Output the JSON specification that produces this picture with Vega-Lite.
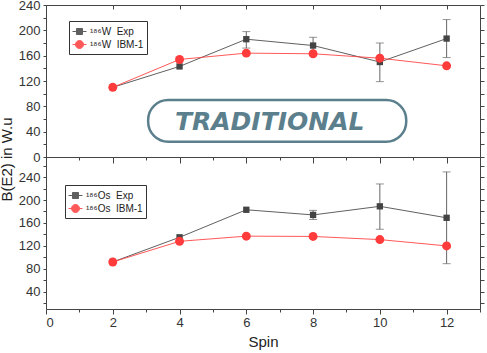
{
  "$schema": "https://vega.github.io/schema/vega-lite/v6.json",
  "padding": {"left": -2, "top": -2, "right": 0, "bottom": 0},
  "bounds": "flush",
  "spacing": 0,
  "background": "white",
  "config": {
    "view": {"stroke": "#444444", "strokeWidth": 1},
    "font": "Liberation Sans",
    "axis": {"labelFont": "Liberation Sans", "labelFontSize": 13, "labelColor": "#333333", "tickColor": "#444444", "domain": false, "grid": false, "titleFont": "Liberation Sans", "titleFontWeight": "normal", "titleColor": "#222222"},
    "legend": {"labelFont": "Liberation Sans", "labelFontSize": 10, "labelColor": "#222222", "strokeColor": "#333333", "padding": 3, "rowPadding": 0, "symbolStrokeWidth": 1, "labelOffset": 3}
  },
  "datasets": {
    "pts": [
      {"panel": "W", "series": "¹⁸⁶W\u00a0 Exp", "spin": 2, "value": 110, "lo": null, "hi": null},
      {"panel": "W", "series": "¹⁸⁶W\u00a0 Exp", "spin": 4, "value": 143, "lo": null, "hi": null},
      {"panel": "W", "series": "¹⁸⁶W\u00a0 Exp", "spin": 6, "value": 186, "lo": 172, "hi": 198},
      {"panel": "W", "series": "¹⁸⁶W\u00a0 Exp", "spin": 8, "value": 176, "lo": 163, "hi": 189},
      {"panel": "W", "series": "¹⁸⁶W\u00a0 Exp", "spin": 10, "value": 150, "lo": 119, "hi": 180},
      {"panel": "W", "series": "¹⁸⁶W\u00a0 Exp", "spin": 12, "value": 187, "lo": 157, "hi": 217},
      {"panel": "W", "series": "¹⁸⁶W\u00a0 IBM-1", "spin": 2, "value": 110, "lo": null, "hi": null},
      {"panel": "W", "series": "¹⁸⁶W\u00a0 IBM-1", "spin": 4, "value": 154, "lo": null, "hi": null},
      {"panel": "W", "series": "¹⁸⁶W\u00a0 IBM-1", "spin": 6, "value": 164, "lo": null, "hi": null},
      {"panel": "W", "series": "¹⁸⁶W\u00a0 IBM-1", "spin": 8, "value": 163, "lo": null, "hi": null},
      {"panel": "W", "series": "¹⁸⁶W\u00a0 IBM-1", "spin": 10, "value": 156, "lo": null, "hi": null},
      {"panel": "W", "series": "¹⁸⁶W\u00a0 IBM-1", "spin": 12, "value": 144, "lo": null, "hi": null},
      {"panel": "Os", "series": "¹⁸⁶Os\u00a0 Exp", "spin": 2, "value": 92, "lo": null, "hi": null},
      {"panel": "Os", "series": "¹⁸⁶Os\u00a0 Exp", "spin": 4, "value": 135, "lo": null, "hi": null},
      {"panel": "Os", "series": "¹⁸⁶Os\u00a0 Exp", "spin": 6, "value": 183, "lo": null, "hi": null},
      {"panel": "Os", "series": "¹⁸⁶Os\u00a0 Exp", "spin": 8, "value": 174, "lo": 166, "hi": 182},
      {"panel": "Os", "series": "¹⁸⁶Os\u00a0 Exp", "spin": 10, "value": 189, "lo": 149, "hi": 228},
      {"panel": "Os", "series": "¹⁸⁶Os\u00a0 Exp", "spin": 12, "value": 169, "lo": 89, "hi": 249},
      {"panel": "Os", "series": "¹⁸⁶Os\u00a0 IBM-1", "spin": 2, "value": 92, "lo": null, "hi": null},
      {"panel": "Os", "series": "¹⁸⁶Os\u00a0 IBM-1", "spin": 4, "value": 128, "lo": null, "hi": null},
      {"panel": "Os", "series": "¹⁸⁶Os\u00a0 IBM-1", "spin": 6, "value": 137, "lo": null, "hi": null},
      {"panel": "Os", "series": "¹⁸⁶Os\u00a0 IBM-1", "spin": 8, "value": 136.5, "lo": null, "hi": null},
      {"panel": "Os", "series": "¹⁸⁶Os\u00a0 IBM-1", "spin": 10, "value": 131, "lo": null, "hi": null},
      {"panel": "Os", "series": "¹⁸⁶Os\u00a0 IBM-1", "spin": 12, "value": 120, "lo": null, "hi": null}
    ],
    "badge": [
      {"label": "TRADITIONAL", "x1": 3.06, "x2": 10.79, "y1": 90, "y2": 24.2, "xc": 6.7, "yc": 55.7}
    ]
  },
  "vconcat": [
    {
      "width": 434,
      "height": 152,
      "layer": [
        {
          "data": {"name": "badge"},
          "mark": {"type": "rect", "cornerRadius": 20, "fill": "white", "stroke": "#5b7f8c", "strokeWidth": 2.5},
          "encoding": {
            "x": {"field": "x1", "type": "quantitative", "scale": {"domain": [0, 13], "nice": false, "zero": false},
                  "axis": {"orient": "top", "values": [0, 2, 4, 6, 8, 10, 12], "labels": false, "tickSize": -4, "title": null}},
            "x2": {"field": "x2"},
            "y": {"field": "y1", "type": "quantitative", "scale": {"domain": [0, 240], "nice": false, "zero": false},
                  "axis": {"orient": "right", "values": [0, 20, 40, 60, 80, 100, 120, 140, 160, 180, 200, 220, 240], "labels": false, "tickSize": 4, "title": null}},
            "y2": {"field": "y2"}
          }
        },
        {
          "data": {"name": "badge"},
          "mark": {"type": "text", "font": "DejaVu Sans", "fontWeight": "bold", "fontStyle": "italic", "fontSize": 25, "color": "#5b7f8c", "align": "center", "baseline": "middle"},
          "encoding": {
            "x": {"field": "xc", "type": "quantitative", "axis": null},
            "y": {"field": "yc", "type": "quantitative", "axis": null},
            "text": {"field": "label"}
          }
        },
        {
          "data": {"name": "pts"},
          "transform": [{"filter": "datum.panel == 'W' && datum.lo != null"}],
          "mark": {"type": "errorbar", "ticks": {"size": 8}, "color": "#666666"},
          "encoding": {
            "x": {"field": "spin", "type": "quantitative", "axis": null},
            "y": {"field": "lo", "type": "quantitative", "axis": null},
            "y2": {"field": "hi"}
          }
        },
        {
          "data": {"name": "pts"},
          "transform": [{"filter": "datum.panel == 'W'"}],
          "mark": {"type": "line", "strokeWidth": 1, "opacity": 0.85},
          "encoding": {
            "x": {"field": "spin", "type": "quantitative",
                  "axis": {"orient": "bottom", "values": [0, 1, 2, 3, 4, 5, 6, 7, 8, 9, 10, 11, 12, 13], "labels": false, "title": null,
                           "tickSize": {"condition": {"test": "datum.value % 2 == 0", "value": 6}, "value": 3}}},
            "y": {"field": "value", "type": "quantitative",
                  "axis": {"orient": "left", "values": [0, 20, 40, 60, 80, 100, 120, 140, 160, 180, 200, 220, 240], "tickSize": 3,
                           "labelExpr": "datum.value % 40 == 0 ? datum.label : ''", "labelPadding": 3,
                           "title": "B(E2) in W.u", "titleFontSize": 15, "titleAngle": -90, "titleX": -40, "titleY": 154, "titleAlign": "center", "titleBaseline": "middle"}},
            "color": {"field": "series", "type": "nominal", "scale": {"domain": ["¹⁸⁶W\u00a0 Exp", "¹⁸⁶W\u00a0 IBM-1"], "range": ["#444444", "#ff3b3b"]},
                      "legend": {"title": null, "orient": "none", "legendX": 23, "legendY": 16, "symbolSize": 196,
                                 "symbolType": {"expr": "indexof(datum.value, 'Exp') >= 0 ? 'M-1,0H1M-0.43,-0.43H0.43V0.43H-0.43Z' : 'M-1,0H1M-0.57,0A0.57,0.57,0,1,1,0.57,0A0.57,0.57,0,1,1,-0.57,0Z'"}}},
            "detail": {"field": "series"}
          }
        },
        {
          "data": {"name": "pts"},
          "transform": [{"filter": "datum.panel == 'W'"}],
          "mark": {"type": "point", "filled": true, "opacity": 1},
          "encoding": {
            "x": {"field": "spin", "type": "quantitative", "axis": null},
            "y": {"field": "value", "type": "quantitative", "axis": null},
            "color": {"field": "series", "type": "nominal",
                      "legend": {"title": null, "orient": "none", "legendX": 23, "legendY": 16, "symbolSize": 196,
                                 "symbolType": {"expr": "indexof(datum.value, 'Exp') >= 0 ? 'M-1,0H1M-0.43,-0.43H0.43V0.43H-0.43Z' : 'M-1,0H1M-0.57,0A0.57,0.57,0,1,1,0.57,0A0.57,0.57,0,1,1,-0.57,0Z'"}}},
            "shape": {"field": "series", "type": "nominal", "scale": {"range": ["square", "circle"]}, "legend": null},
            "size": {"field": "series", "type": "ordinal", "scale": {"range": [40, 80]}, "legend": null}
          }
        }
      ],
      "resolve": {"axis": {"x": "independent", "y": "independent"}}
    },
    {
      "width": 434,
      "height": 152,
      "layer": [
        {
          "data": {"name": "pts"},
          "transform": [{"filter": "datum.panel == 'Os' && datum.lo != null"}],
          "mark": {"type": "errorbar", "ticks": {"size": 8}, "color": "#666666"},
          "encoding": {
            "x": {"field": "spin", "type": "quantitative", "scale": {"domain": [0, 13], "nice": false, "zero": false},
                  "axis": {"orient": "top", "values": [0, 2, 4, 6, 8, 10, 12], "labels": false, "tickSize": -4, "title": null}},
            "y": {"field": "lo", "type": "quantitative", "scale": {"domain": [10, 275], "nice": false, "zero": false},
                  "axis": {"orient": "right", "values": [20, 40, 60, 80, 100, 120, 140, 160, 180, 200, 220, 240, 260], "labels": false, "tickSize": 4, "title": null}},
            "y2": {"field": "hi"}
          }
        },
        {
          "data": {"name": "pts"},
          "transform": [{"filter": "datum.panel == 'Os'"}],
          "mark": {"type": "line", "strokeWidth": 1, "opacity": 0.85},
          "encoding": {
            "x": {"field": "spin", "type": "quantitative",
                  "axis": {"orient": "bottom", "values": [0, 1, 2, 3, 4, 5, 6, 7, 8, 9, 10, 11, 12, 13], "title": "Spin", "titleFontSize": 15, "titlePadding": 5,
                           "labelExpr": "datum.value % 2 == 0 ? datum.label : ''", "labelPadding": 2,
                           "tickSize": {"condition": {"test": "datum.value % 2 == 0", "value": 5}, "value": 3}}},
            "y": {"field": "value", "type": "quantitative",
                  "axis": {"orient": "left", "values": [20, 40, 60, 80, 100, 120, 140, 160, 180, 200, 220, 240, 260], "tickSize": 3,
                           "labelExpr": "datum.value % 40 == 0 ? datum.label : ''", "labelPadding": 3, "title": null}},
            "color": {"field": "series", "type": "nominal", "scale": {"domain": ["¹⁸⁶Os\u00a0 Exp", "¹⁸⁶Os\u00a0 IBM-1"], "range": ["#444444", "#ff3b3b"]},
                      "legend": {"title": null, "orient": "none", "legendX": 19, "legendY": 28, "symbolSize": 196,
                                 "symbolType": {"expr": "indexof(datum.value, 'Exp') >= 0 ? 'M-1,0H1M-0.43,-0.43H0.43V0.43H-0.43Z' : 'M-1,0H1M-0.57,0A0.57,0.57,0,1,1,0.57,0A0.57,0.57,0,1,1,-0.57,0Z'"}}},
            "detail": {"field": "series"}
          }
        },
        {
          "data": {"name": "pts"},
          "transform": [{"filter": "datum.panel == 'Os'"}],
          "mark": {"type": "point", "filled": true, "opacity": 1},
          "encoding": {
            "x": {"field": "spin", "type": "quantitative", "axis": null},
            "y": {"field": "value", "type": "quantitative", "axis": null},
            "color": {"field": "series", "type": "nominal",
                      "legend": {"title": null, "orient": "none", "legendX": 19, "legendY": 28, "symbolSize": 196,
                                 "symbolType": {"expr": "indexof(datum.value, 'Exp') >= 0 ? 'M-1,0H1M-0.43,-0.43H0.43V0.43H-0.43Z' : 'M-1,0H1M-0.57,0A0.57,0.57,0,1,1,0.57,0A0.57,0.57,0,1,1,-0.57,0Z'"}}},
            "shape": {"field": "series", "type": "nominal", "scale": {"range": ["square", "circle"]}, "legend": null},
            "size": {"field": "series", "type": "ordinal", "scale": {"range": [40, 80]}, "legend": null}
          }
        }
      ],
      "resolve": {"axis": {"x": "independent", "y": "independent"}}
    }
  ],
  "resolve": {"scale": {"color": "independent", "shape": "independent", "size": "independent", "x": "independent", "y": "independent"}}
}
